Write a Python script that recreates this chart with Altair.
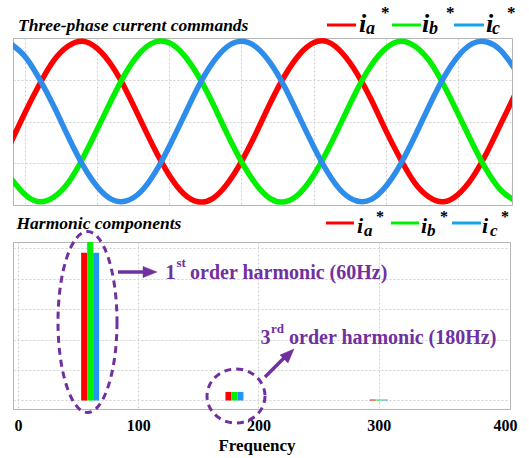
import altair as alt
import pandas as pd

# ---------------- data ----------------
# three-phase current commands (per-unit), sampled every 1 ms
time_ms = list(range(4, 40))
ia = [-0.27, 0.11, 0.46, 0.76, 0.94, 1.00, 0.91, 0.70, 0.39, 0.02, -0.35, -0.67,
      -0.90, -1.00, -0.96, -0.78, -0.50, -0.15, 0.23, 0.57, 0.83, 0.98, 0.99, 0.85,
      0.60, 0.27, -0.11, -0.46, -0.76, -0.94, -1.00, -0.91, -0.70, -0.39, -0.02, 0.35]
ib = [-0.70, -0.91, -1.00, -0.94, -0.76, -0.46, -0.10, 0.27, 0.61, 0.86, 0.99, 0.98,
      0.83, 0.57, 0.23, -0.15, -0.50, -0.78, -0.96, -1.00, -0.90, -0.67, -0.35, 0.02,
      0.39, 0.70, 0.91, 1.00, 0.94, 0.76, 0.46, 0.10, -0.27, -0.61, -0.86, -0.99]
ic = [0.97, 0.81, 0.53, 0.19, -0.19, -0.54, -0.81, -0.97, -0.99, -0.88, -0.64, -0.31,
      0.06, 0.43, 0.73, 0.93, 1.00, 0.93, 0.73, 0.43, 0.06, -0.31, -0.64, -0.88,
      -0.99, -0.97, -0.81, -0.54, -0.19, 0.19, 0.54, 0.81, 0.97, 0.99, 0.88, 0.64]

# harmonic spectrum magnitudes
freq_hz = [60, 180, 300]
mag_a = [4.85, 0.28, 0.03]
mag_b = [5.20, 0.28, 0.03]
mag_c = [4.85, 0.28, 0.03]

phases = ["a", "b", "c"]

FONT = "Liberation Serif"
PURPLE = "#7030A0"
WAVE_COLORS = {"a": "#FF0000", "b": "#00F000", "c": "#2E8DEB"}
BAR_COLORS = {"a": "#FF0000", "b": "#00F000", "c": "#2196F3"}
LEG_COLORS = {"a": "#FF0000", "b": "#00F000", "c": "#12A5E8"}

wave_df = pd.DataFrame({
    "t": time_ms * 3,
    "i": ia + ib + ic,
    "phase": ["a"] * len(ia) + ["b"] * len(ib) + ["c"] * len(ic),
})
harm_df = pd.DataFrame({
    "f": freq_hz * 3,
    "mag": mag_a + mag_b + mag_c,
    "phase": ["a"] * 3 + ["b"] * 3 + ["c"] * 3,
})
one_row = pd.DataFrame({"k": [0]})


# ---------------- helpers ----------------
def text(label, x, y, size, color="black", italic=False, bold=True, align="left"):
    return alt.Chart(one_row).mark_text(
        text=label, font=FONT, fontSize=size, fontWeight="bold" if bold else "normal",
        fontStyle="italic" if italic else "normal", color=color, align=align,
        baseline="alphabetic",
    ).encode(x=alt.value(x), y=alt.value(y))


def hline(x0, x1, y, color, width):
    return alt.Chart(one_row).mark_rule(color=color, strokeWidth=width).encode(
        x=alt.value(x0), x2=alt.value(x1), y=alt.value(y))


def legend(entries, y_line, y_i, y_sub, y_star, s_i, s_sub, s_star):
    layers = []
    for ph, x0, x1, xi, xs, xst in entries:
        layers += [
            hline(x0, x1, y_line, LEG_COLORS[ph], 3),
            text("i", xi, y_i, s_i, italic=True),
            text(ph, xs, y_sub, s_sub, italic=True),
            text("*", xst, y_star, s_star),
        ]
    return layers


def ellipse_path(rx, ry):
    k = 0.5523
    return (f"M {rx} 0 C {rx} {k*ry:.4f} {k*rx:.4f} {ry} 0 {ry} "
            f"C {-k*rx:.4f} {ry} {-rx} {k*ry:.4f} {-rx} 0 "
            f"C {-rx} {-k*ry:.4f} {-k*rx:.4f} {-ry} 0 {-ry} "
            f"C {k*rx:.4f} {-ry} {rx} {-k*ry:.4f} {rx} 0 Z")


def ellipse(cx, cy, w, h):
    big = max(w, h)
    return alt.Chart(one_row).mark_point(
        shape=ellipse_path(w / big, h / big), size=big * big, filled=False,
        stroke=PURPLE, strokeWidth=3, strokeDash=[7, 5], opacity=1,
    ).encode(x=alt.value(cx), y=alt.value(cy))


ARROW_HEAD = "M -1 -0.8 L 1 0 L -1 0.8 Z"


def arrow(x0, y0, x1, y1, hx, hy, angle):
    shaft = alt.Chart(one_row).mark_rule(color=PURPLE, strokeWidth=3.5).encode(
        x=alt.value(x0), y=alt.value(y0), x2=alt.value(x1), y2=alt.value(y1))
    head = alt.Chart(one_row).mark_point(
        shape=ARROW_HEAD, size=196, filled=True, fill=PURPLE, stroke=PURPLE,
        strokeWidth=0.5, opacity=1, angle=angle,
    ).encode(x=alt.value(hx), y=alt.value(hy))
    return [shaft, head]


def corner(x, y):
    # invisible marker fixing the outer extent of the page
    return alt.Chart(one_row).mark_rule(opacity=0, strokeWidth=1).encode(
        x=alt.value(x), x2=alt.value(x + 1), y=alt.value(y))


# ---------------- top panel: current commands ----------------
x_t = alt.X("t:Q", scale=alt.Scale(domain=[4.17, 38.75], nice=False, zero=False),
            axis=alt.Axis(values=[5, 10, 15, 20, 25, 30, 35], labels=False, ticks=False,
                          domain=False, title=None, grid=True))
y_i = alt.Y("i:Q", scale=alt.Scale(domain=[-1.04, 1.04], nice=False, zero=False),
            axis=alt.Axis(values=[-0.52, 0, 0.52], labels=False, ticks=False,
                          domain=False, title=None, grid=True))

waves = [
    alt.Chart(wave_df).transform_filter(alt.datum.phase == ph).mark_line(
        color=WAVE_COLORS[ph], strokeWidth=5.5, interpolate="natural", clip=True,
    ).encode(x=x_t, y=y_i)
    for ph in phases
]

top = alt.layer(
    *waves,
    text("Three-phase current commands", 5, -7, 17.5, italic=True),
    *legend([("a", 314, 343, 346, 353, 368),
             ("b", 379, 408, 409, 416, 433),
             ("c", 441, 471, 473, 479, 494)],
            y_line=-13, y_i=-6, y_sub=-4, y_star=-20, s_i=26, s_sub=18, s_star=17),
    corner(-12.5, -37.5),
).properties(width=499, height=167)

# ---------------- bottom panel: harmonic spectrum ----------------
x_f = alt.X("f:Q", scale=alt.Scale(domain=[0, 405], nice=False, zero=False),
            axis=alt.Axis(values=[0, 100, 200, 300, 400], grid=True, ticks=False,
                          tickSize=0, domain=False, labelFont=FONT, labelFontWeight="bold",
                          labelFontSize=16, labelColor="black", labelPadding=21,
                          labelBaseline="alphabetic", labelFlush=False, labelOverlap=False,
                          labelOffset={"condition": {"test": "datum.value >= 400",
                                                     "value": 6}, "value": 0},
                          gridOpacity={"condition": {"test": "datum.value >= 400",
                                                     "value": 0}, "value": 1},
                          title="Frequency", titleFont=FONT, titleFontSize=17,
                          titleFontWeight="bold", titleColor="black", titleX=243.5,
                          titleY=41, titleBaseline="alphabetic"))
y_m = alt.Y("mag:Q", scale=alt.Scale(domain=[-0.28, 5.2], nice=False, zero=False),
            stack=None,
            axis=alt.Axis(values=[0, 1, 2, 3, 4, 5], labels=False, ticks=False,
                          domain=False, title=None, grid=True))

bars = [
    alt.Chart(harm_df).transform_filter(alt.datum.phase == ph).mark_bar(
        color=BAR_COLORS[ph], width=6, xOffset=off, clip=True,
    ).encode(x=x_f, y=y_m)
    for ph, off in zip(phases, [-6, 0, 6])
]

bottom = alt.layer(
    *bars,
    text("Harmonic components", 3.5, -13.5, 17.5, italic=True),
    *legend([("a", 313, 341, 344, 351, 363),
             ("b", 378, 406, 408, 414, 427),
             ("c", 439, 468, 469, 477, 488)],
            y_line=-19, y_i=-9, y_sub=-6, y_star=-20, s_i=22, s_sub=17, s_star=16),
    ellipse(74.5, 80, 59, 181),
    ellipse(223, 154, 58, 54),
    *arrow(105, 30, 131, 30, 137, 30, 0),
    *arrow(252, 135, 274, 113, 276, 112, 315),
    text("1", 152.5, 36.5, 20, color=PURPLE),
    text("st", 163.5, 25, 13, color=PURPLE),
    text("order harmonic (60Hz)", 177, 36.5, 20, color=PURPLE),
    text("3", 247.5, 101.5, 20, color=PURPLE),
    text("rd", 258, 91, 13, color=PURPLE),
    text("order harmonic (180Hz)", 276, 101.5, 20, color=PURPLE),
    corner(514.5, 215.5),
).properties(width=497, height=167)

chart = alt.vconcat(top, bottom, spacing=37).properties(
    padding=0, bounds="flush", autosize=alt.AutoSizeParams(type="pad"),
).configure_view(
    stroke="#b5b5b5", strokeWidth=1,
).configure_axis(
    gridColor="#cfcfcf", gridDash=[2, 2], gridWidth=1,
)

chart.save("out.html", embed_options={"renderer": "svg", "actions": False})
